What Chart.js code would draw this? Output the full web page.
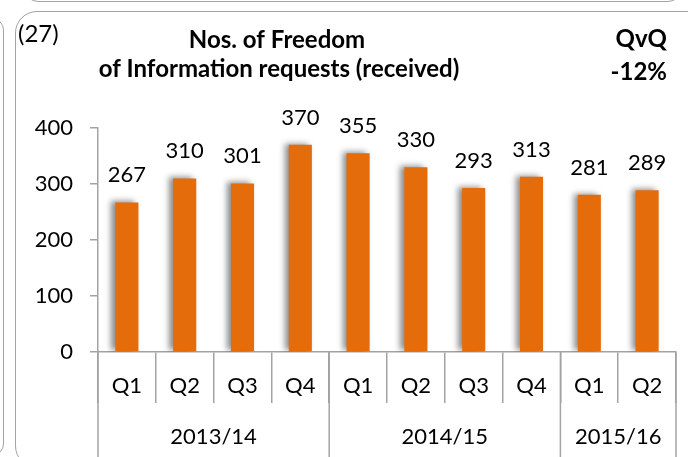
<!DOCTYPE html>
<html>
<head>
<meta charset="utf-8">
<script src="https://cdn.jsdelivr.net/npm/chart.js@4"></script>
<style>
  body { margin: 0; background: #fff; }
  #wrap { position: relative; width: 688px; height: 457px; overflow: hidden; }
  #wrap canvas { position: absolute; left: 0; top: 0; }
  .frame { position: absolute; border: 1.5px solid #a3a3a3; }
</style>
</head>
<body>
<div id="wrap">
  <div class="frame" style="left:-300px;top:18px;width:302px;height:436px;border-radius:12px"></div>
  <div class="frame" style="left:24px;top:-100px;width:656px;height:100px;border-radius:14px"></div>
  <div class="frame" style="left:15px;top:11px;width:720px;height:455px;border-radius:22px"></div>
  <canvas id="freedomChart" width="688" height="457"></canvas>
</div>
<script>
// chart values
let quarters = ['Q1', 'Q2', 'Q3', 'Q4', 'Q1', 'Q2', 'Q3', 'Q4', 'Q1', 'Q2'];
let requests = [267, 310, 301, 370, 355, 330, 293, 313, 281, 289];
let years = ['2013/14', '2014/15', '2015/16'];
let yearSpans = [4, 4, 2];
let yMin = 0;
let yMax = 400;
let yStep = 100;

let titleLines = ['Nos. of Freedom', 'of Information requests (received)'];
let chartNo = '(27)';
let changeLines = ['QvQ', '-12%'];

let gray = '#a3a3a3';
let orange = '#e46c0a';
let fontName = 'Lato';

// shadow on the bars + value labels above
const barExtras = {
  id: 'barExtras',
  beforeDatasetsDraw(chart) {
    let ctx = chart.ctx;
    ctx.save();
    ctx.shadowColor = 'rgba(0,0,0,0.45)';
    ctx.shadowBlur = 6;
    ctx.shadowOffsetX = -4;
    ctx.shadowOffsetY = -1;
  },
  afterDatasetsDraw(chart) {
    let ctx = chart.ctx;
    ctx.restore();
    ctx.save();
    ctx.font = '22px ' + fontName;
    ctx.fillStyle = '#000';
    ctx.textAlign = 'center';
    ctx.textBaseline = 'alphabetic';
    chart.getDatasetMeta(0).data.forEach(function (bar, i) {
      ctx.fillText(requests[i], bar.x, bar.y - 20);
    });
    ctx.restore();
  }
};

// year groups under the quarters, and the header texts
const groupsAndHeader = {
  id: 'groupsAndHeader',
  afterDraw(chart) {
    let ctx = chart.ctx;
    let x = chart.scales.x;
    let area = chart.chartArea;
    let half = (x.getPixelForTick(1) - x.getPixelForTick(0)) / 2;

    ctx.save();
    ctx.strokeStyle = gray;
    ctx.lineWidth = 1.5;
    ctx.font = '22px ' + fontName;
    ctx.fillStyle = '#000';
    ctx.textAlign = 'center';
    ctx.textBaseline = 'middle';

    let left = x.getPixelForTick(0) - half;
    ctx.beginPath();
    ctx.moveTo(left, area.bottom);
    ctx.lineTo(left, chart.height);
    ctx.stroke();

    let idx = 0;
    years.forEach(function (yr, i) {
      let start = idx;
      idx += yearSpans[i];
      let l = x.getPixelForTick(start) - half;
      let r = x.getPixelForTick(idx - 1) + half;
      ctx.beginPath();
      ctx.moveTo(r, area.bottom);
      ctx.lineTo(r, chart.height);
      ctx.stroke();
      ctx.fillText(yr, (l + r) / 2, 437);
    });

    // header
    ctx.textBaseline = 'alphabetic';
    ctx.textAlign = 'left';
    ctx.font = '24px ' + fontName;
    ctx.fillText(chartNo, 18, 42);

    ctx.textAlign = 'center';
    ctx.font = 'bold 24px ' + fontName;
    ctx.fillText(titleLines[0], 277, 48);
    ctx.fillText(titleLines[1], 279, 77);

    ctx.textAlign = 'right';
    ctx.fillText(changeLines[0], 667, 47);
    ctx.fillText(changeLines[1], 667, 80);
    ctx.restore();
  }
};

let ctxFreedom = document.getElementById('freedomChart').getContext('2d');
let freedomBar = new Chart(ctxFreedom, {
  type: 'bar',
  data: {
    labels: quarters,
    datasets: [{
      data: requests,
      backgroundColor: orange,
      borderWidth: 0,
      categoryPercentage: 0.4,
      barPercentage: 1
    }]
  },
  options: {
    responsive: false,
    animation: false,
    layout: {
      padding: { left: 0, right: 12, top: 128, bottom: 0 }
    },
    plugins: {
      legend: { display: false },
      tooltip: { enabled: false }
    },
    scales: {
      x: {
        grid: {
          display: true,
          drawOnChartArea: false,
          offset: true,
          tickLength: 51,
          color: gray,
          lineWidth: 1.5
        },
        border: { color: gray, width: 1.5 },
        ticks: {
          font: { family: fontName, size: 22 },
          color: '#000',
          padding: -30,
          maxRotation: 0,
          autoSkip: false
        },
        afterFit: function (s) { s.height = 105; }
      },
      y: {
        min: yMin,
        max: yMax,
        grid: {
          drawOnChartArea: false,
          tickLength: 8,
          color: gray,
          lineWidth: 1.5
        },
        border: { color: gray, width: 1.5 },
        ticks: {
          stepSize: yStep,
          font: { family: fontName, size: 22 },
          color: '#000',
          padding: 17
        },
        afterFit: function (s) { s.width = 98; }
      }
    }
  },
  plugins: [barExtras, groupsAndHeader]
});
</script>
</body>
</html>
